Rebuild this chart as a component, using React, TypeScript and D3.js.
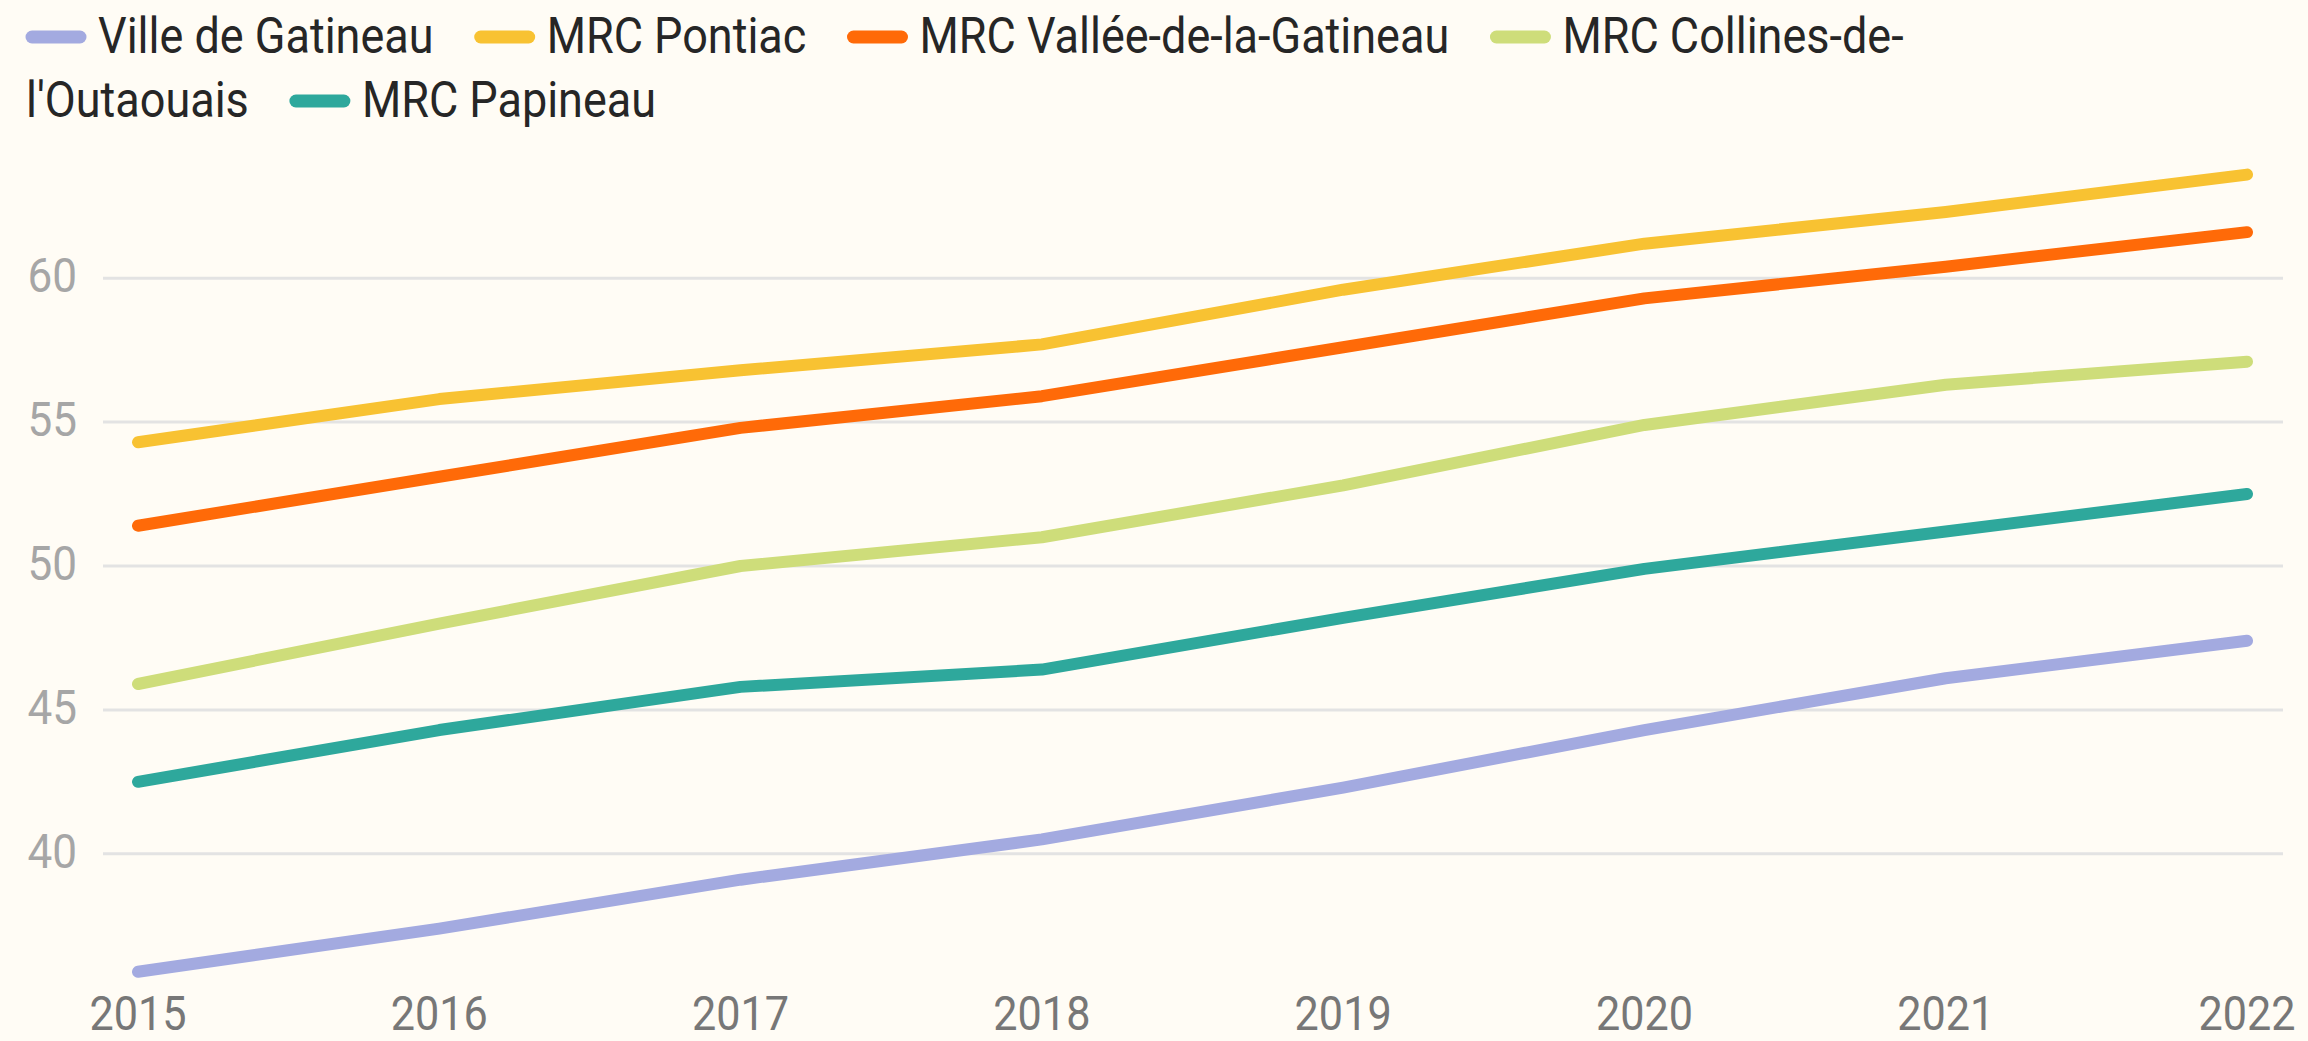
import React from 'react';
import * as d3 from 'd3';

const years = [2015, 2016, 2017, 2018, 2019, 2020, 2021, 2022];

const seriesNames = [
  'Ville de Gatineau',
  'MRC Pontiac',
  'MRC Vallée-de-la-Gatineau',
  "MRC Collines-de-l'Outaouais",
  'MRC Papineau',
];

const gatineau = [35.9, 37.4, 39.1, 40.5, 42.3, 44.3, 46.1, 47.4];
const pontiac = [54.3, 55.8, 56.8, 57.7, 59.6, 61.2, 62.3, 63.6];
const vallee = [51.4, 53.1, 54.8, 55.9, 57.6, 59.3, 60.4, 61.6];
const collines = [45.9, 48.0, 50.0, 51.0, 52.8, 54.9, 56.3, 57.1];
const papineau = [42.5, 44.3, 45.8, 46.4, 48.2, 49.9, 51.2, 52.5];

const seriesValues = [gatineau, pontiac, vallee, collines, papineau];
const colors = ['#a3aae0', '#f8c232', '#ff6a08', '#cedd7a', '#2ea89c'];

const yTicks = [40, 45, 50, 55, 60];

const W = 2308;
const H = 1041;
const BG = '#fffcf5';
const SX = 0.9; // text looks horizontally squeezed

// rough legend layout, wraps long labels at a hyphen
function layoutLegend(fontSize: number, maxWidth: number) {
  const canvas = document.createElement('canvas');
  const ctx = canvas.getContext('2d')!;
  ctx.font = `${fontSize}px Roboto`;
  const tw = (s: string) => ctx.measureText(s).width * SX;
  const swatchW = 60, swatchGap = 12, itemGap = 41, x0 = 26;
  const rowH = 64;
  let x = x0, row = 0;
  const swatches: any[] = [];
  const texts: any[] = [];
  seriesNames.forEach((name, i) => {
    const full = swatchW + swatchGap + tw(name);
    if (x + full > maxWidth) {
      // try to split on hyphen
      let cut = -1;
      for (let k = name.length - 1; k > 0; k--) {
        if (name[k] === '-' && x + swatchW + swatchGap + tw(name.slice(0, k + 1)) <= maxWidth) {
          cut = k + 1;
          break;
        }
      }
      if (cut > 0) {
        swatches.push({ x, row, i });
        texts.push({ x: x + swatchW + swatchGap, row, t: name.slice(0, cut) });
        row += 1;
        const rest = name.slice(cut);
        texts.push({ x: x0, row, t: rest });
        x = x0 + tw(rest) + itemGap;
        return;
      }
      row += 1;
      x = x0;
    }
    swatches.push({ x, row, i });
    texts.push({ x: x + swatchW + swatchGap, row, t: name });
    x += full + itemGap;
  });
  return { swatches, texts, swatchW, rowH };
}

export default function App() {
  const x = d3.scaleLinear().domain([2015, 2022]).range([138, 2247]);
  const y = d3.scaleLinear().domain([40, 60]).range([853.8, 278.2]);

  const line = d3
    .line<number>()
    .x((_, i) => x(years[i]))
    .y((d) => y(d));

  const legend = layoutLegend(50, 2000);
  const baseline0 = 53;

  return (
    <div style={{ position: 'absolute', left: 0, top: 0, width: W, height: H, background: BG }}>
      <svg width={W} height={H} style={{ display: 'block' }} fontFamily="Roboto">
        <rect width={W} height={H} fill={BG} />

        {/* grid */}
        {yTicks.map((t) => (
          <line key={t} x1={103} x2={2283} y1={y(t)} y2={y(t)} stroke="#e3e3e3" strokeWidth={3} />
        ))}

        {/* y labels */}
        {yTicks.map((t) => (
          <g key={'yl' + t} transform={`translate(77,${y(t) + 14}) scale(${SX},1)`}>
            <text textAnchor="end" fontSize={49} fill="#a6a6a6">
              {t}
            </text>
          </g>
        ))}

        {/* x labels */}
        {years.map((yr) => (
          <g key={'xl' + yr} transform={`translate(${x(yr)},1030) scale(${SX},1)`}>
            <text textAnchor="middle" fontSize={48} fill="#777">
              {yr}
            </text>
          </g>
        ))}

        {/* lines */}
        {seriesValues.map((vals, i) => (
          <path
            key={seriesNames[i]}
            d={line(vals) || ''}
            fill="none"
            stroke={colors[i]}
            strokeWidth={12}
            strokeLinecap="round"
            strokeLinejoin="round"
          />
        ))}

        {/* legend */}
        {legend.swatches.map((s) => {
          const cy = baseline0 + s.row * legend.rowH - 16;
          return (
            <line
              key={'sw' + s.i}
              x1={s.x + 6}
              x2={s.x + legend.swatchW - 6}
              y1={cy}
              y2={cy}
              stroke={colors[s.i]}
              strokeWidth={13}
              strokeLinecap="round"
            />
          );
        })}
        {legend.texts.map((t, k) => (
          <g key={'lt' + k} transform={`translate(${t.x},${baseline0 + t.row * legend.rowH}) scale(${SX},1)`}>
            <text fontSize={50} fill="#262626">
              {t.t}
            </text>
          </g>
        ))}
      </svg>
    </div>
  );
}
